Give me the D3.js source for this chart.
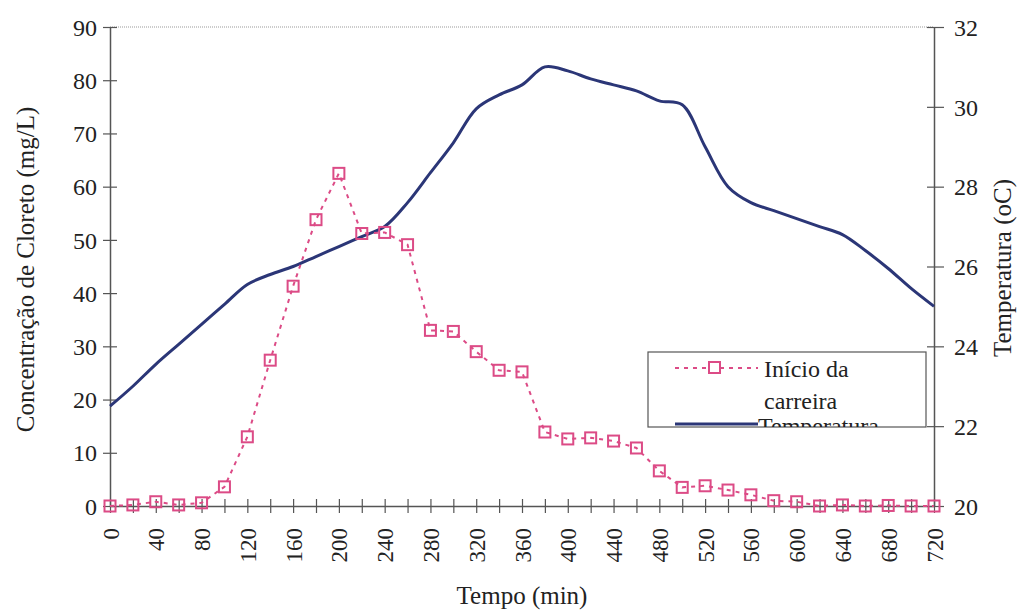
<!DOCTYPE html>
<html><head><meta charset="utf-8">
<script src="https://cdn.jsdelivr.net/npm/d3@7"></script>
<style>body{margin:0;background:#fff}svg{display:block}svg text{font-family:"Liberation Serif","Times New Roman",Times,"DejaVu Serif","Noto Serif",serif !important;fill:#222}</style>
</head><body>
<script>
const times = d3.range(0, 721, 20);
const cloreto = [0,0.2,0.8,0.2,0.6,3.6,13,27.4,41.3,53.8,62.5,51.2,51.4,49.1,33,32.8,29,25.5,25.2,13.9,12.6,12.8,12.2,10.9,6.6,3.5,3.8,3.0,2.1,1.0,0.8,0,0.2,0,0.1,0,0];
const temperatura = [22.5,23.0,23.55,24.05,24.55,25.05,25.55,25.8,26.0,26.25,26.5,26.75,27.0,27.6,28.35,29.1,29.95,30.3,30.55,31.0,30.9,30.7,30.55,30.4,30.15,30.05,29.0,28.0,27.6,27.4,27.2,27.0,26.8,26.4,25.95,25.45,25.0];
const xTicks = d3.range(0, 721, 40);
const yLeftTicks = d3.range(0, 91, 10);
const yRightTicks = d3.range(20, 33, 2);
const seriesNames = ["Início da carreira", "Temperatura"];

const W = 1022, H = 610;
const m = {l:110, r:88, t:27, b:104};
const svg = d3.select("body").append("svg").attr("width", W).attr("height", H);
const x = d3.scaleLinear().domain([0,720]).range([m.l, W-m.r]);
const yL = d3.scaleLinear().domain([0,90]).range([H-m.b, m.t]);
const yR = d3.scaleLinear().domain([20,32]).range([H-m.b, m.t]);
const pink = "#dc4b86", navy = "#2b3677", axisCol = "#555";
const serif = '"Liberation Serif", "Times New Roman", Times, "DejaVu Serif", serif';

// top border dotted
svg.append("line").attr("x1", x(0)).attr("x2", x(720)).attr("y1", yL(90)).attr("y2", yL(90))
  .attr("stroke", "#999").attr("stroke-width", 1.2).attr("stroke-dasharray", "1,1");

function styleAxis(g){
  g.attr("font-family", serif);
  g.select(".domain").attr("stroke", axisCol).attr("stroke-width", 1.5);
  g.selectAll(".tick line").attr("stroke", axisCol).attr("stroke-width", 1.2);
  g.selectAll("text").attr("font-family", serif).attr("fill", "#222");
}
// left axis
const gL = svg.append("g").attr("transform", `translate(${x(0)},0)`)
  .call(d3.axisLeft(yL).tickValues(yLeftTicks).tickSizeOuter(0));
gL.selectAll(".tick line").attr("x2", 7).attr("x1", -7);
gL.selectAll("text").attr("font-size", 24).attr("x", -13).attr("dy", "0.34em");
styleAxis(gL);
// right axis
const gR = svg.append("g").attr("transform", `translate(${x(720)},0)`)
  .call(d3.axisRight(yR).tickValues(yRightTicks).tickSizeOuter(0));
gR.selectAll(".tick line").attr("x1", -7).attr("x2", 10);
gR.selectAll("text").attr("font-size", 24).attr("x", 20).attr("dy", "0.34em");
styleAxis(gR);
// bottom axis
const gB = svg.append("g").attr("transform", `translate(0,${yL(0)})`)
  .call(d3.axisBottom(x).tickValues(d3.range(0,721,20)).tickSizeOuter(0).tickFormat(d => xTicks.includes(d) ? d : ""));
gB.selectAll(".tick line").attr("y1", -7).attr("y2", 7);
gB.selectAll("text").attr("font-size", 23).attr("transform", "rotate(-90)")
  .attr("text-anchor", "end").attr("x", -22).attr("y", 0).attr("dy", "0.35em");
styleAxis(gB);

// temperature line
const lineT = d3.line().x((d,i) => x(times[i])).y(d => yR(d)).curve(d3.curveCatmullRom.alpha(0.5));
svg.append("path").datum(temperatura).attr("d", lineT).attr("fill", "none")
  .attr("stroke", navy).attr("stroke-width", 3);

// cloreto line
const lineC = d3.line().x((d,i) => x(times[i])).y(d => yL(d));
svg.append("path").datum(cloreto).attr("d", lineC).attr("fill", "none")
  .attr("stroke", pink).attr("stroke-width", 2).attr("stroke-dasharray", "4,5");
svg.append("g").selectAll("rect").data(cloreto).join("rect")
  .attr("x", (d,i) => x(times[i]) - 5.5).attr("y", d => yL(d) - 5.5)
  .attr("width", 11).attr("height", 11).attr("fill", "none")
  .attr("stroke", pink).attr("stroke-width", 2);

// legend
const lg = svg.append("g");
const lx = 648, ly = 352, lw = 278, lh = 75;
svg.append("clipPath").attr("id", "lgclip").append("rect").attr("x", lx).attr("y", ly).attr("width", lw).attr("height", lh);
lg.append("rect").attr("x", lx).attr("y", ly).attr("width", lw).attr("height", lh)
  .attr("fill", "#fff").attr("stroke", "#555").attr("stroke-width", 1.2);
const lc = lg.append("g").attr("clip-path", "url(#lgclip)");
lc.append("line").attr("x1", 675).attr("x2", 758).attr("y1", 368).attr("y2", 368)
  .attr("stroke", pink).attr("stroke-width", 2).attr("stroke-dasharray", "4,5");
lc.append("rect").attr("x", 709).attr("y", 362).attr("width", 11).attr("height", 11)
  .attr("fill", "#fff").attr("stroke", pink).attr("stroke-width", 2);
lc.append("text").attr("x", 764).attr("y", 377).attr("font-size", 24).text("Início da");
lc.append("text").attr("x", 764).attr("y", 409).attr("font-size", 24).text("carreira");
lc.append("line").attr("x1", 675).attr("x2", 758).attr("y1", 424).attr("y2", 424)
  .attr("stroke", navy).attr("stroke-width", 3);
lc.append("text").attr("x", 758).attr("y", 434).attr("font-size", 24).text(seriesNames[1]);

// axis titles
svg.append("text").attr("x", x(360)).attr("y", 604).attr("text-anchor", "middle")
  .attr("font-size", 25).text("Tempo (min)");
svg.append("text").attr("transform", `translate(34,${(yL(0)+yL(90))/2 + 3}) rotate(-90)`)
  .attr("text-anchor", "middle").attr("font-size", 25).text("Concentração de Cloreto (mg/L)");
svg.append("text").attr("transform", `translate(1011,${268}) rotate(-90)`)
  .attr("text-anchor", "middle").attr("font-size", 25).text("Temperatura (oC)");
</script>
</body></html>
